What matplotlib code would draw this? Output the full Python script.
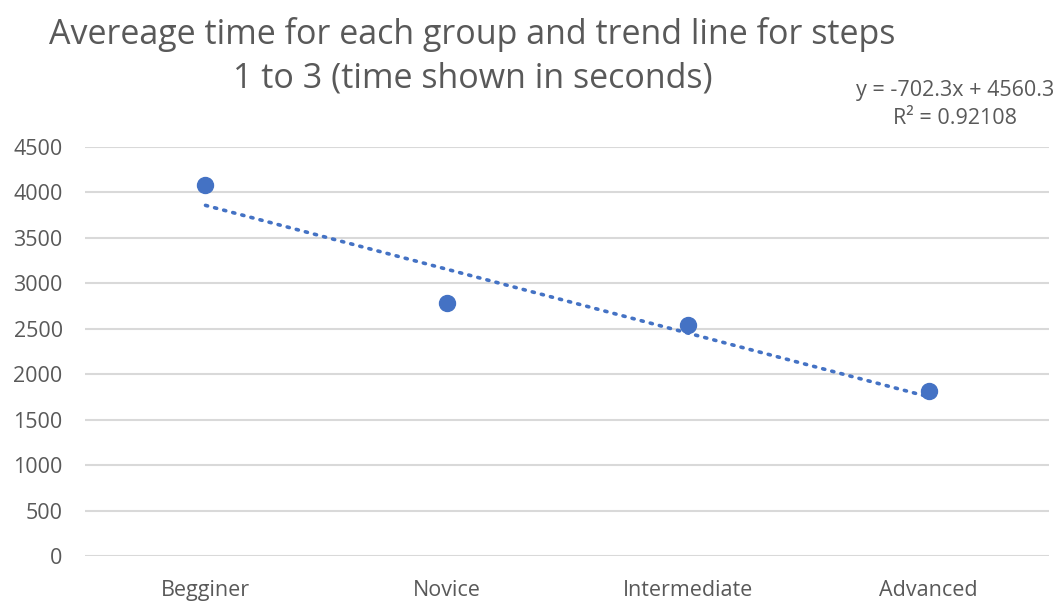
import numpy as np
import matplotlib.pyplot as plt

plt.rcParams['font.family'] = ['Open Sans', 'DejaVu Sans']

groups = ["Begginer", "Novice", "Intermediate", "Advanced"]
avg_time = [4080, 2780, 2540, 1818]

# linear trend coefficients as reported on the chart
slope = -702.3
intercept = 4560.3
r_squared = 0.92108

blue = "#4472C4"
grey = "#595959"

fig = plt.figure(figsize=(10.62, 6.01), dpi=100)
ax = fig.add_axes([0.080, 0.0749, 0.908, 0.6805])

x = np.arange(1, len(groups) + 1)
trend_x = np.array([x[0], x[-1]])
ax.plot(trend_x, slope * trend_x + intercept, color=blue, linewidth=2.6,
        linestyle=(0, (0.6, 2.0)), dash_capstyle='round', zorder=2)
ax.plot(x, avg_time, 'o', color=blue, markersize=11.5, zorder=3)

ax.set_xlim(0.5, 4.5)
ax.set_ylim(0, 4500)
ax.set_yticks(np.arange(0, 4501, 500))
ax.set_xticks(x)
ax.set_xticklabels(groups)
ax.grid(axis='y', color='#d9d9d9', linewidth=1.5)
ax.set_axisbelow(True)
for s in ax.spines.values():
    s.set_visible(False)
ax.tick_params(length=0, labelsize=15.5, colors=grey)
ax.tick_params(axis='y', pad=16)
ax.tick_params(axis='x', pad=17)

fig.text(0.445, 0.906, "Avereage time for each group and trend line for steps\n1 to 3 (time shown in seconds)",
         ha='center', va='center', fontsize=24.5, color=grey, linespacing=1.38)
fig.text(0.899, 0.826, f"y = {slope}x + {intercept}\nR² = {r_squared:.5f}",
         ha='center', va='center', fontsize=15.5, color=grey, linespacing=1.42)

fig.savefig("out.png", dpi=100)
